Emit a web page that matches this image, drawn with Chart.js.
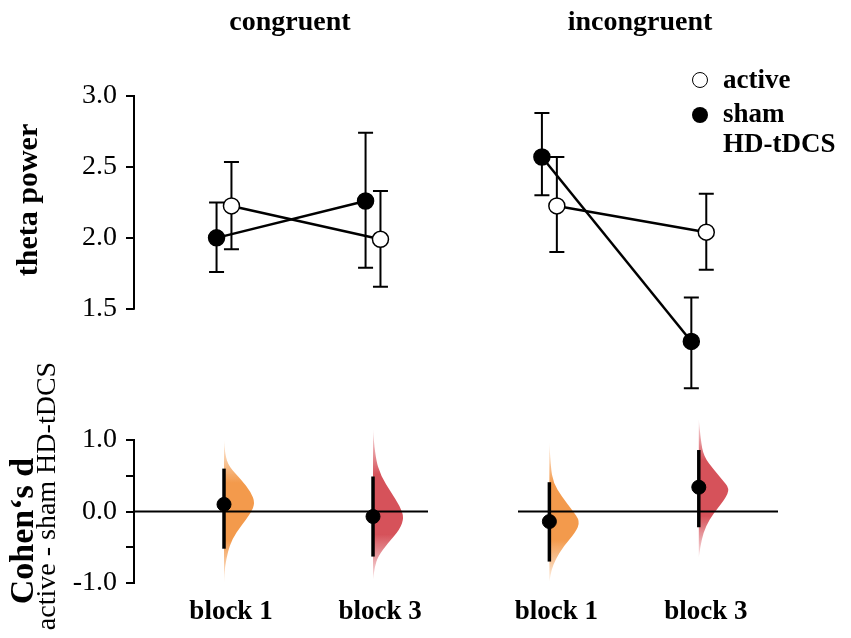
<!DOCTYPE html>
<html>
<head>
<meta charset="utf-8">
<title>theta power / Cohen's d</title>
<script src="https://cdn.jsdelivr.net/npm/chart.js@4.4.1/dist/chart.umd.min.js"></script>
<style>
  body { margin: 0; background: #fff; width: 851px; height: 638px; position: relative; overflow: hidden;
         font-family: "Liberation Serif", "Times New Roman", serif; color: #000; }
  canvas { position: absolute; left: 0; top: 0; }
  .txt { position: absolute; white-space: nowrap; line-height: 1; }
  .ctr { transform: translate(-50%, -50%); }
  .rot { transform: translate(-50%, -50%) rotate(-90deg); }
  .b { font-weight: bold; }
  .dot { position: absolute; width: 16px; height: 16px; border-radius: 50%; box-sizing: border-box;
         transform: translate(-50%, -50%); }
</style>
</head>
<body>
<canvas id="congTop" width="851" height="638"></canvas>
<canvas id="incongTop" width="851" height="638"></canvas>
<canvas id="congD" width="851" height="638"></canvas>
<canvas id="incongD" width="851" height="638"></canvas>

<div class="txt ctr b" style="left:290px; top:21px; font-size:28px;">congruent</div>
<div class="txt ctr b" style="left:640px; top:21px; font-size:28px;">incongruent</div>
<div class="txt rot b" style="left:27px; top:200px; font-size:30px;">theta power</div>
<div class="txt rot b" style="left:22px; top:531px; font-size:34px;">Cohen‘s d</div>
<div class="txt rot" style="left:46px; top:496px; font-size:28px;">active - sham HD-tDCS</div>

<!-- legend -->
<div class="dot" style="left:700px; top:80px; background:#fff; border:1.5px solid #000;"></div>
<div class="dot" style="left:700px; top:115px; background:#000;"></div>
<div class="txt b" style="left:723px; top:81px; font-size:27px; transform:translateY(-55%);">active</div>
<div class="txt b" style="left:723px; top:115px; font-size:27px; transform:translateY(-55%);">sham</div>
<div class="txt b" style="left:723px; top:145px; font-size:27px; transform:translateY(-55%);">HD-tDCS</div>

<script>
// ── Data ──────────────────────────────────────────────────────
const blocks = ['block 1', 'block 3'];
const thetaTicks = [1.5, 2.0, 2.5, 3.0];
const cohenTicks = [-1.0, -0.5, 0.0, 0.5, 1.0];
const cohenLabelled = [-1.0, 0.0, 1.0];

// theta power, congruent
const congSham     = [2.00, 2.26];
const congShamLo   = [1.76, 1.79];
const congShamHi   = [2.25, 2.74];
const congActive   = [2.225, 1.99];
const congActiveLo = [1.92, 1.655];
const congActiveHi = [2.535, 2.33];

// theta power, incongruent
const incongSham     = [2.57, 1.27];
const incongShamLo   = [2.30, 0.94];
const incongShamHi   = [2.88, 1.58];
const incongActive   = [2.225, 2.04];
const incongActiveLo = [1.90, 1.775];
const incongActiveHi = [2.57, 2.31];

// Cohen's d (active - sham) with CI
const congD     = [0.10, -0.07];
const congDLo   = [-0.52, -0.63];
const congDHi   = [0.60, 0.49];
const incongD   = [-0.14, 0.34];
const incongDLo = [-0.70, -0.22];
const incongDHi = [0.41, 0.86];

// bootstrap distributions: d value -> relative density
const congB1DensD   = [1.0, 0.8, 0.63, 0.45, 0.27, 0.12, -0.02, -0.2, -0.39, -0.57, -0.77, -1.0];
const congB1Dens    = [0, 0.03, 0.16, 0.55, 0.87, 1.0, 0.87, 0.55, 0.26, 0.12, 0.03, 0];
const congB3DensD   = [1.15, 0.77, 0.49, 0.27, 0.07, -0.08, -0.25, -0.44, -0.63, -0.77, -0.95];
const congB3Dens    = [0, 0.06, 0.26, 0.58, 0.87, 1.0, 0.87, 0.48, 0.16, 0.06, 0];
const incongB1DensD = [0.97, 0.63, 0.40, 0.21, 0.03, -0.14, -0.30, -0.49, -0.67, -0.81, -0.98];
const incongB1Dens  = [0, 0.04, 0.13, 0.40, 0.72, 1.0, 0.83, 0.45, 0.20, 0.07, 0];
const incongB3DensD = [1.29, 1.0, 0.77, 0.59, 0.45, 0.32, 0.17, -0.02, -0.21, -0.39, -0.64];
const incongB3Dens  = [0, 0.06, 0.16, 0.48, 0.74, 1.0, 0.84, 0.48, 0.22, 0.09, 0];

// ── Style / layout ────────────────────────────────────────────
const SERIF = '"Liberation Serif", "Times New Roman", serif';
const DODGE = 0.05;          // sham left, active right of the block
const VIOLIN_W = 31;         // px at peak density
const ORANGE = '#F39A4C';
const RED = '#D6525A';
const W = 851, H = 638;

// ── Plugins ───────────────────────────────────────────────────
const violins = {
  id: 'violins',
  beforeDatasetsDraw(chart, args, opts) {
    if (!opts.sets) return;
    const { ctx, chartArea: a, scales: { x, y } } = chart;
    ctx.save();
    opts.sets.forEach((s, i) => {
      const cx = x.getPixelForValue(i);
      const pts = s.d.map((v, k) => [cx + s.w[k] * VIOLIN_W, y.getPixelForValue(v)]);
      const y1 = pts[0][1], y2 = pts[pts.length - 1][1];
      const g = ctx.createLinearGradient(0, y1, 0, y2);
      g.addColorStop(0, s.color + '22');
      g.addColorStop(0.3, s.color);
      g.addColorStop(0.7, s.color);
      g.addColorStop(1, s.color + '22');
      ctx.fillStyle = g;
      ctx.beginPath();
      ctx.moveTo(cx, y1);
      ctx.lineTo(pts[0][0], pts[0][1]);
      for (let k = 1; k < pts.length - 1; k++) {
        const mx = (pts[k][0] + pts[k + 1][0]) / 2, my = (pts[k][1] + pts[k + 1][1]) / 2;
        ctx.quadraticCurveTo(pts[k][0], pts[k][1], mx, my);
      }
      ctx.lineTo(cx, y2);
      ctx.closePath();
      ctx.fill();
    });
    // zero line on top of the distributions
    const y0 = y.getPixelForValue(0);
    ctx.strokeStyle = '#000';
    ctx.lineWidth = 2;
    ctx.beginPath();
    ctx.moveTo(a.left, y0);
    ctx.lineTo(a.right, y0);
    ctx.stroke();
    ctx.restore();
  },
};

const errorBars = {
  id: 'errorBars',
  beforeDatasetsDraw(chart) {
    const { ctx } = chart;
    const y = chart.scales.y;
    chart.data.datasets.forEach((ds, i) => {
      if (!ds.lo) return;
      const meta = chart.getDatasetMeta(i);
      ctx.save();
      ctx.strokeStyle = '#000';
      ctx.lineWidth = ds.errWidth;
      meta.data.forEach((pt, j) => {
        const top = y.getPixelForValue(ds.hi[j]);
        const bot = y.getPixelForValue(ds.lo[j]);
        ctx.beginPath();
        ctx.moveTo(pt.x, top);
        ctx.lineTo(pt.x, bot);
        if (ds.cap) {
          ctx.moveTo(pt.x - ds.cap, top); ctx.lineTo(pt.x + ds.cap, top);
          ctx.moveTo(pt.x - ds.cap, bot); ctx.lineTo(pt.x + ds.cap, bot);
        }
        ctx.stroke();
      });
      ctx.restore();
    });
  },
};

// y axis line only over the labelled range
const axisLine = {
  id: 'axisLine',
  afterDraw(chart, args, opts) {
    if (!opts.ticks) return;
    const { ctx, chartArea: a } = chart;
    const y = chart.scales.y;
    ctx.save();
    ctx.strokeStyle = '#000';
    ctx.lineWidth = 2;
    ctx.beginPath();
    ctx.moveTo(a.left, y.getPixelForValue(Math.max(...opts.ticks)) - 1);
    ctx.lineTo(a.left, y.getPixelForValue(Math.min(...opts.ticks)) + 1);
    ctx.stroke();
    ctx.restore();
  },
};

// ── Chart factory ─────────────────────────────────────────────
function makePanel(id, box, xRange, yRange, yTicks, yLabel, showY, showX, datasets, sets) {
  return new Chart(document.getElementById(id), {
    type: 'scatter',
    data: { datasets },
    plugins: [violins, errorBars, axisLine],
    options: {
      responsive: false,
      animation: false,
      events: [],
      layout: {
        padding: {
          left: showY ? 0 : box.left,
          right: W - box.right,
          top: box.top,
          bottom: showX ? 0 : H - box.bottom,
        },
      },
      plugins: {
        legend: { display: false },
        tooltip: { enabled: false },
        violins: { sets },
        axisLine: { ticks: showY ? yTicks : null },
      },
      scales: {
        x: {
          type: 'linear',
          display: showX,
          min: xRange[0],
          max: xRange[1],
          afterBuildTicks: (s) => { s.ticks = blocks.map((b, i) => ({ value: i })); },
          afterFit: (s) => { if (showX) s.height = H - box.bottom; },
          grid: { display: false },
          border: { display: false },
          ticks: {
            callback: (v) => blocks[v] ?? '',
            font: { family: SERIF, size: 27, weight: 'bold' },
            color: '#000',
            padding: 1,
            labelOffset: 7,
            maxRotation: 0,
            autoSkip: false,
          },
        },
        y: {
          type: 'linear',
          display: showY,
          min: yRange[0],
          max: yRange[1],
          afterBuildTicks: (s) => { s.ticks = yTicks.map((v) => ({ value: v })); },
          afterFit: (s) => { if (showY) s.width = box.left; },
          grid: { display: true, drawOnChartArea: false, drawTicks: true, tickLength: 8, color: '#000', lineWidth: 2 },
          border: { display: false },
          ticks: {
            callback: yLabel,
            font: { family: SERIF, size: 28 },
            color: '#000',
            padding: 9,
            autoSkip: false,
          },
        },
      },
    },
  });
}

function thetaSets(sham, shamLo, shamHi, active, activeLo, activeHi) {
  const common = { showLine: true, borderColor: '#000', borderWidth: 2.5, pointRadius: 8,
                   pointBorderColor: '#000', pointBorderWidth: 1.5, cap: 7.5, errWidth: 2 };
  return [
    { ...common, label: 'sham', data: sham.map((v, i) => ({ x: i - DODGE, y: v })),
      lo: shamLo, hi: shamHi, pointBackgroundColor: '#000', order: 2 },
    { ...common, label: 'active', data: active.map((v, i) => ({ x: i + DODGE, y: v })),
      lo: activeLo, hi: activeHi, pointBackgroundColor: '#fff', order: 1 },
  ];
}

function cohenSet(d, lo, hi) {
  return [{ label: "Cohen's d", data: d.map((v, i) => ({ x: i, y: v })), lo, hi, cap: 0, errWidth: 3.5,
            pointRadius: 7, pointBackgroundColor: '#000', pointBorderColor: '#000', showLine: false }];
}

const thetaLabel = (v) => v.toFixed(1);
const cohenLabel = (v) => (cohenLabelled.includes(v) ? v.toFixed(1) : '');

const leftX = [-0.604, 1.369];
const rightX = [-0.21, 1.53];
const thetaY = [0.85, 3.1];
const cohenY = [-1.05, 1.35];

makePanel('congTop', { left: 134, right: 428, top: 81.8, bottom: 401 }, leftX, thetaY, thetaTicks, thetaLabel,
  true, false, thetaSets(congSham, congShamLo, congShamHi, congActive, congActiveLo, congActiveHi), null);

makePanel('incongTop', { left: 518, right: 778, top: 81.8, bottom: 401 }, rightX, thetaY, thetaTicks, thetaLabel,
  false, false, thetaSets(incongSham, incongShamLo, incongShamHi, incongActive, incongActiveLo, incongActiveHi), null);

makePanel('congD', { left: 134, right: 428, top: 415, bottom: 586.6 }, leftX, cohenY, cohenTicks, cohenLabel,
  true, true, cohenSet(congD, congDLo, congDHi), [
    { d: congB1DensD, w: congB1Dens, color: ORANGE },
    { d: congB3DensD, w: congB3Dens, color: RED },
  ]);

makePanel('incongD', { left: 518, right: 778, top: 415, bottom: 586.6 }, rightX, cohenY, cohenTicks, cohenLabel,
  false, true, cohenSet(incongD, incongDLo, incongDHi), [
    { d: incongB1DensD, w: incongB1Dens, color: ORANGE },
    { d: incongB3DensD, w: incongB3Dens, color: RED },
  ]);
</script>
</body>
</html>
